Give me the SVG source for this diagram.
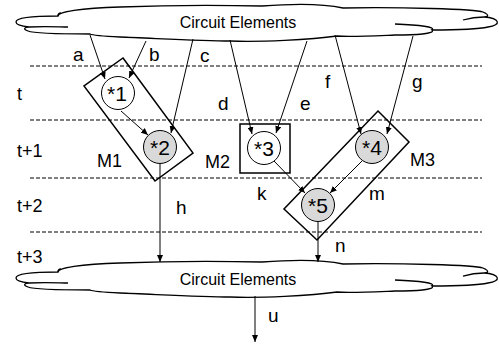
<svg xmlns="http://www.w3.org/2000/svg" xmlns:xlink="http://www.w3.org/1999/xlink" width="499" height="344" viewBox="0 0 499 344">
<style>
.txt{font-family:"Liberation Sans",Arial,sans-serif;fill:#000}
.lbl{font-size:19px}
.tl{font-size:18px}
.nl{font-size:21px;text-anchor:middle}
.ce{font-size:16px;text-anchor:middle}
.dash{stroke:#000;stroke-width:1;stroke-dasharray:4 2;fill:none}
.cl{fill:#fff;stroke:#000;stroke-width:1.3}
.inner{fill:none;stroke:#000;stroke-width:1.3}
.box{fill:none;stroke:#000;stroke-width:1.5}
.node{stroke:#000;stroke-width:1}
.white{fill:#fff}
.gray{fill:#d9d9d9}
.edge{stroke:#000;stroke-width:1;fill:none;marker-end:url(#arr)}
</style>
<defs>
<marker id="arr" markerUnits="userSpaceOnUse" markerWidth="8" markerHeight="6" refX="7" refY="3" orient="auto">
<path d="M0,0 L7,3 L0,6 Z" fill="#000"/>
</marker>
<g id="cloud">
<path class="cl" d="M16,22 C16,17 40,16 58,16 C58,12 80,8 120,7 C170,5 220,5 262,6 C300,3 325,4 343,8 C400,7 475,9 483,12 C490,15 488,17 484,17 C500,18 502,25 488,27 C475,30 450,30 432,30 C436,34 415,35 395,35 C370,36 350,37 337,36 C310,40 260,42 230,41 C200,41 150,38 120,37 C100,36 92,35 90,34 C70,34 35,34 28,31 C22,29 25,27 29,27 C20,26 16,24 16,22 Z"/>
<path class="inner" d="M29,27 C45,26 60,27 68,27"/>
<path class="inner" d="M463,20 C470,18 478,17 484,17"/>
<path class="inner" d="M395,24 C420,25 436,27 432,30"/>
<path class="inner" d="M58,16 C58,14 59,13 61,13"/>
</g>
</defs>

<g id="timelines">
<line class="dash" x1="30" y1="66" x2="482" y2="66"/>
<line class="dash" x1="30" y1="120" x2="482" y2="120"/>
<line class="dash" x1="30" y1="178" x2="482" y2="178"/>
<line class="dash" x1="30" y1="232" x2="482" y2="232"/>
</g>

<g id="cloud-top">
<use xlink:href="#cloud"/>
<text class="txt ce" x="238" y="28">Circuit Elements</text>
</g>
<g id="cloud-bottom">
<use xlink:href="#cloud" transform="translate(0,256)"/>
<text class="txt ce" x="238" y="285">Circuit Elements</text>
</g>

<g id="M1">
<polygon class="box" points="123,58 193,153 155,181 84,86"/>
<text class="txt tl" x="97" y="167">M1</text>
</g>
<g id="M2">
<rect class="box" x="240" y="124" width="50" height="49"/>
<text class="txt tl" x="205" y="168">M2</text>
</g>
<g id="M3">
<polygon class="box" points="378,111 409,142 317,240 284,209"/>
<text class="txt tl" x="410" y="166">M3</text>
</g>

<g id="connectors">
<line class="edge" x1="90" y1="35" x2="105" y2="79"/>
<line class="edge" x1="146" y1="41" x2="129" y2="78"/>
<line class="edge" x1="193" y1="39" x2="171" y2="133"/>
<line class="edge" x1="121" y1="111" x2="148" y2="135"/>
<line class="edge" x1="230" y1="40" x2="252" y2="134"/>
<line class="edge" x1="307" y1="41" x2="276" y2="133"/>
<line class="edge" x1="335" y1="35" x2="361" y2="134"/>
<line class="edge" x1="413" y1="36" x2="387" y2="134"/>
<line class="edge" x1="274" y1="161" x2="305" y2="193"/>
<line class="edge" x1="362" y1="161" x2="330" y2="193"/>
<line class="edge" x1="160" y1="164" x2="160" y2="262"/>
<line class="edge" x1="318" y1="222" x2="318" y2="262"/>
<line class="edge" x1="255" y1="296" x2="255" y2="342"/>
</g>

<g id="n1">
<circle class="node white" cx="118" cy="93" r="16.5"/>
<text class="txt nl" x="117" y="101">*1</text>
</g>
<g id="n2">
<circle class="node gray" cx="160" cy="147" r="16.5"/>
<text class="txt nl" x="160" y="155">*2</text>
</g>
<g id="n3">
<circle class="node white" cx="264" cy="148" r="16.5"/>
<text class="txt nl" x="264" y="156">*3</text>
</g>
<g id="n4">
<circle class="node gray" cx="372" cy="147" r="16.5"/>
<text class="txt nl" x="372" y="155">*4</text>
</g>
<g id="n5">
<circle class="node gray" cx="318" cy="205" r="16.5"/>
<text class="txt nl" x="318" y="213">*5</text>
</g>

<g id="labels">
<text class="txt lbl" x="73" y="61">a</text>
<text class="txt lbl" x="149" y="61">b</text>
<text class="txt lbl" x="200" y="62">c</text>
<text class="txt lbl" x="218" y="110">d</text>
<text class="txt lbl" x="300" y="110">e</text>
<text class="txt lbl" x="325" y="88">f</text>
<text class="txt lbl" x="412" y="88">g</text>
<text class="txt lbl" x="176" y="214">h</text>
<text class="txt lbl" x="257" y="200">k</text>
<text class="txt lbl" x="369" y="200">m</text>
<text class="txt lbl" x="335" y="252">n</text>
<text class="txt lbl" x="268" y="322">u</text>
<text class="txt tl" x="17" y="100">t</text>
<text class="txt tl" x="17" y="157">t+1</text>
<text class="txt tl" x="17" y="212">t+2</text>
<text class="txt tl" x="17" y="263">t+3</text>
</g>
</svg>
